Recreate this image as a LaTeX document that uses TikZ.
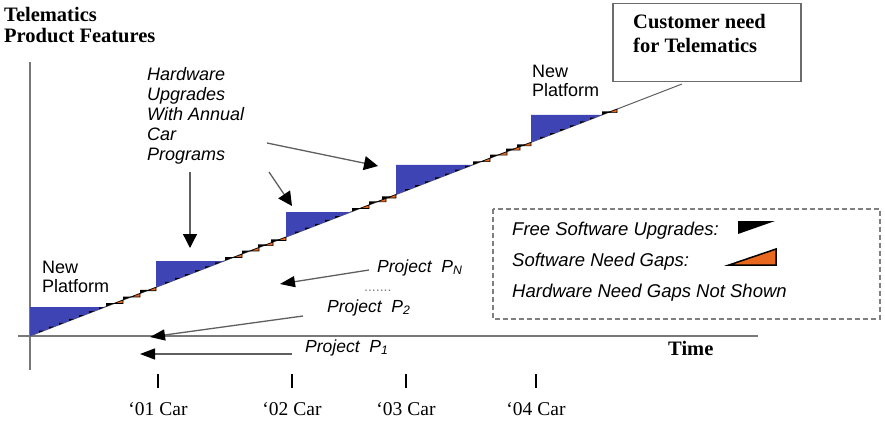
\documentclass[tikz,border=0pt]{standalone}
\usepackage{fontspec}
\setmainfont{Liberation Serif}
\setsansfont{Liberation Sans}
\usetikzlibrary{arrows.meta}
\definecolor{stepblue}{RGB}{62,68,180}
\definecolor{gaporange}{RGB}{232,104,32}
\definecolor{axisgray}{RGB}{120,120,120}
\definecolor{linegray}{RGB}{95,95,95}
\newcommand{\diagy}[1]{(336-0.3865*((#1)-30))}
\tikzset{
  serifbold/.style={font=\fontsize{20.5}{21}\selectfont\bfseries, inner sep=0pt},
  seriflab/.style={font=\fontsize{19.5}{20}\selectfont, inner sep=0pt},
  sanslab/.style={font=\fontsize{18}{19}\selectfont\sffamily, inner sep=0pt},
  sansit/.style={font=\fontsize{18.5}{20}\selectfont\sffamily\itshape, inner sep=0pt},
  axisline/.style={draw=axisgray, line width=1.8pt},
  callout/.style={draw=linegray, line width=1.3pt, -{Triangle[length=14pt,width=14pt,color=black]}},
  projarrow/.style={draw=linegray, line width=1.3pt, -{Triangle[length=15pt,width=11pt,color=black]}},
  stepfill/.style={fill=stepblue},
  blacktooth/.style={fill=black},
  orangetooth/.style={fill=gaporange, draw=black, line width=0.6pt},
  ticksty/.style={draw=black, line width=1.5pt}
}
\begin{document}
\begin{tikzpicture}[x=1pt,y=-1pt]
\useasboundingbox (0,0) rectangle (885,422);

% title
\node[serifbold, align=left, anchor=north west] (ytitle) at (4,7.3) {Telematics\\Product Features};

% axes
\coordinate (origin) at (30,336);
\coordinate (ytop) at (30,62);
\coordinate (ybot) at (30,370);
\coordinate (xleft) at (18,336);
\coordinate (xright) at (758,336);
\draw[axisline] (ybot) -- (ytop);
\draw[axisline] (xleft) -- (xright);

% customer box
\node[draw=gray!85!black, line width=1.5pt, minimum width=188pt, minimum height=78pt, anchor=north west, inner sep=0pt] (custbox) at (612,3) {};
\node[serifbold, align=left, anchor=north west, font=\fontsize{20.5}{24}\selectfont\bfseries] (custtext) at (633,14.3) {Customer need\\for Telematics};

% diagonal
\coordinate (dend) at (682,84);
\draw[linegray, line width=1pt] (origin) -- (dend);

% blue hardware steps
\foreach \L/\T in {30/307,156/261,286/212,396/165,531/115}{
  \pgfmathsetmacro{\R}{30+(336-\T)/0.3865}
  \fill[stepfill] ({\L},{\diagy{\L}}) -- ({\L},{\T}) -- ({\R},{\T}) -- cycle;
  \pgfmathsetmacro{\Rend}{\R-6}
  \pgfmathsetmacro{\Lnext}{\L+9}
  \pgfmathsetmacro{\Lsec}{\L+19}
  \foreach \x in {\Lnext,\Lsec,...,\Rend}{
    \fill[blacktooth] ({\x},{\diagy{\x}}) -- ({\x},{\diagy{\x}-2}) -- ({\x+5.2},{\diagy{\x}-2}) -- cycle;
  }
}

% software teeth
\foreach \x in {106,123,140,225,242,258,271,352,369,382,473,490,506,517,602}{
  \fill[blacktooth] ({\x},{\diagy{\x}}) -- ({\x},{\diagy{\x}-3.5}) -- ({\x+9},{\diagy{\x}-3.5}) -- cycle;
}
\foreach \x in {114,131,147,233,250,264,277,360,377,387,481,498,511,522,608}{
  \filldraw[orangetooth] ({\x},{\diagy{\x}}) -- ({\x+9},{\diagy{\x}}) -- ({\x+9},{\diagy{\x+9}}) -- cycle;
}

% labels
\node[sanslab, anchor=base west] (np1) at (42,273) {New};
\node[sanslab, anchor=base west] (np1b) at (42,292) {Platform};
\node[sanslab, anchor=base west] (np2) at (532,78) {New};
\node[sanslab, anchor=base west] (np2b) at (532,97) {Platform};

\node[sansit, font=\fontsize{18}{20}\selectfont\sffamily\itshape, align=left, anchor=north west] (hwlabel) at (147,67) {Hardware\\Upgrades\\With Annual\\Car\\Programs};

% callout arrows
\coordinate (c1s) at (190,172); \coordinate (c1e) at (190,248);
\coordinate (c2s) at (269,172); \coordinate (c2e) at (292,206);
\coordinate (c3s) at (267,143); \coordinate (c3e) at (378,166);
\draw[callout] (c1s) -- (c1e);
\draw[callout] (c2s) -- (c2e);
\draw[callout] (c3s) -- (c3e);

% projects
\node[sansit, anchor=base west, font=\fontsize{17.5}{20}\selectfont\sffamily\itshape] (pn) at (377,272) {Project\ \ P\textsubscript{N}};
\node[anchor=base west, inner sep=0pt, text=gray, font=\fontsize{14}{14}\selectfont\sffamily] (pdots) at (364,291) {.......};
\node[sansit, anchor=base west, font=\fontsize{17.5}{20}\selectfont\sffamily\itshape] (p2) at (327,312) {Project\ \ P\textsubscript{2}};
\node[sansit, anchor=base west, font=\fontsize{17.5}{20}\selectfont\sffamily\itshape] (p1) at (305,352) {Project\ \ P\textsubscript{1}};
\coordinate (pns) at (369,270); \coordinate (pne) at (280,284);
\coordinate (p2s) at (303,316); \coordinate (p2e) at (150,337);
\coordinate (p1s) at (292,354); \coordinate (p1e) at (140,354);
\draw[projarrow] (pns) -- (pne);
\draw[projarrow] (p2s) -- (p2e);
\draw[projarrow] (p1s) -- (p1e);

% legend
\draw[draw=gray, line width=1.2pt, dash pattern=on 5pt off 3pt] (493,209) rectangle (880,319);
\node[sansit, anchor=base west] (lg1) at (512,235) {Free Software Upgrades:};
\node[sansit, anchor=base west] (lg2) at (512,266) {Software Need Gaps:};
\node[sansit, anchor=base west] (lg3) at (512,297) {Hardware Need Gaps Not Shown};
\fill[black] (738,221) -- (775,221) -- (738,234) -- cycle;
\filldraw[fill=gaporange, draw=black, line width=1.5pt] (729,265) -- (776,265) -- (776,249) -- cycle;

% time axis
\node[serifbold, anchor=base west] (timelab) at (668,355) {Time};
\foreach \tx/\lab/\nm in {158/‘01 Car/a,292/‘02 Car/b,406/‘03 Car/c,536/‘04 Car/d}{
  \coordinate (tick\nm t) at (\tx,374);
  \coordinate (tick\nm b) at (\tx,388);
  \draw[ticksty] (tick\nm t) -- (tick\nm b);
  \node[seriflab, anchor=base] (car\nm) at (\tx,415) {\lab};
}
\end{tikzpicture}
\end{document}
